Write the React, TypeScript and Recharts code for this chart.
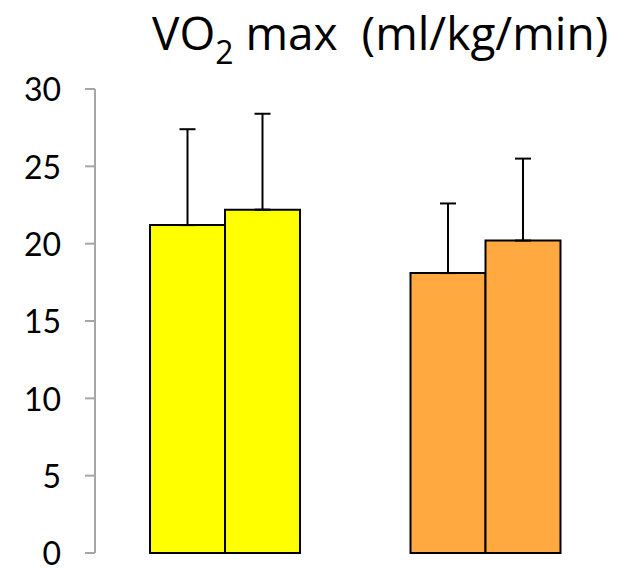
import React from "react";
import { BarChart, Bar, XAxis, YAxis, ErrorBar, Cell } from "recharts";

// two groups, two bars each
const groups = ["A", "B"];
const firstValues = [21.2, 18.1];
const secondValues = [22.2, 20.2];
const firstSd = [6.2, 4.5];
const secondSd = [6.2, 5.3];
const groupColors = ["#FFFF00", "#FFA940"];
const yTicks = [0, 5, 10, 15, 20, 25, 30];

const rows = groups.map((g, i) => ({
  group: g,
  first: firstValues[i],
  second: secondValues[i],
  // only the upper whisker is drawn
  firstErr: [0, firstSd[i]],
  secondErr: [0, secondSd[i]],
}));

const axisGray = "#a6a6a6";
const tickFont = "Lato, 'Open Sans', sans-serif";
const titleFont = "'Open Sans', Lato, sans-serif";

export default function App() {
  return (
    <div style={{ position: "absolute", left: 0, top: 0, width: 632, height: 569, background: "#fff" }}>
      <BarChart
        width={632}
        height={569}
        data={rows}
        margin={{ top: 89, right: 16, bottom: 16, left: 0 }}
        barCategoryGap={55}
        barGap={0}
        style={{ position: "absolute", left: 0, top: 0 }}
      >
        <XAxis
          dataKey="group"
          tick={false}
          tickLine={false}
          height={0}
          axisLine={{ stroke: axisGray, strokeWidth: 2 }}
        />
        <YAxis
          domain={[0, 30]}
          ticks={yTicks}
          width={95}
          tickSize={10}
          tickMargin={24}
          axisLine={{ stroke: axisGray, strokeWidth: 2 }}
          tickLine={{ stroke: axisGray, strokeWidth: 2 }}
          tick={{ fill: "#000", fontSize: 32, fontFamily: tickFont, dy: 1 }}
          interval={0}
        />
        <Bar dataKey="first" stroke="#000" strokeWidth={2} isAnimationActive={false}>
          {rows.map((r, i) => (
            <Cell key={r.group} fill={groupColors[i]} />
          ))}
          <ErrorBar dataKey="firstErr" width={8} stroke="#000" strokeWidth={2} direction="y" />
        </Bar>
        <Bar dataKey="second" stroke="#000" strokeWidth={2} isAnimationActive={false}>
          {rows.map((r, i) => (
            <Cell key={r.group} fill={groupColors[i]} />
          ))}
          <ErrorBar dataKey="secondErr" width={8} stroke="#000" strokeWidth={2} direction="y" />
        </Bar>
      </BarChart>
      <svg width={632} height={90} style={{ position: "absolute", left: 0, top: 0 }}>
        <text x={152} y={50} fontFamily={titleFont} fontSize={46} fill="#000" style={{ whiteSpace: "pre" }}>
          VO
          <tspan fontSize={32} dy={14}>2</tspan>
          <tspan dy={-14}>{" max  (ml/kg/min)"}</tspan>
        </text>
      </svg>
    </div>
  );
}
